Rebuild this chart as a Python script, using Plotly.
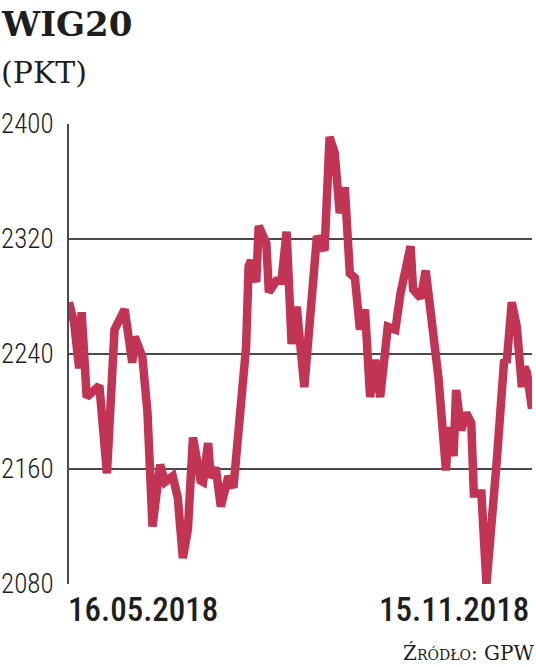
import datetime as dt
import plotly.graph_objects as go

# ---- data ----
start_date = dt.date(2018, 5, 16)
day_offsets = [0, 2, 4, 5, 7, 10, 12, 15, 18, 22, 25, 26, 29, 31, 33, 36, 38, 41, 43, 45,
               47, 49, 52, 53, 55, 56, 58, 60, 63, 65, 67, 70, 71, 72, 74, 75, 78, 79, 82, 84,
               86, 88, 90, 93, 96, 98, 101, 103, 105, 107, 109, 111, 113, 115, 117, 119, 121, 123, 126, 129,
               131, 135, 136, 139, 141, 143, 144, 146, 149, 150, 152, 153, 155, 157, 159, 160, 163, 165, 169, 172,
               173, 175, 177, 179, 180, 181, 183]
wig20 = [2276, 2262, 2230, 2269, 2210, 2214, 2218, 2157, 2257, 2271, 2234, 2252, 2238, 2200, 2120, 2163, 2151, 2155, 2140, 2098,
         2118, 2182, 2152, 2151, 2178, 2154, 2161, 2134, 2155, 2147, 2190, 2245, 2301, 2305, 2290, 2329, 2317, 2283, 2291, 2291,
         2325, 2247, 2273, 2217, 2280, 2322, 2312, 2391, 2380, 2338, 2356, 2296, 2293, 2257, 2271, 2210, 2236, 2210, 2259, 2257,
         2282, 2315, 2285, 2279, 2298, 2271, 2252, 2224, 2159, 2189, 2169, 2215, 2187, 2199, 2192, 2143, 2143, 2080, 2164, 2236,
         2234, 2276, 2259, 2217, 2231, 2227, 2202]
dates = [start_date + dt.timedelta(days=d) for d in day_offsets]

y_ticks = [2080, 2160, 2240, 2320, 2400]
x_labels = ["16.05.2018", "15.11.2018"]
title_text = "WIG20"
unit_text = "(PKT)"
source_text = "Źródło: GPW"

W, H = 536, 667
L, R, T, B = 69, 4, 124, 83
PW, PH = W - L - R, H - T - B


def px_x(px):
    return (px - L) / PW


def px_y(py):
    return (H - B - py) / PH


LINE = "#C33454"
GRID = "#4a4a4a"
TXT = "#1e1e1e"
COND = "Roboto Condensed"

fig = go.Figure()
fig.add_trace(go.Scatter(x=dates, y=wig20, mode="lines",
                         line=dict(color=LINE, width=8.5, shape="linear"),
                         hoverinfo="skip"))

fig.update_layout(
    width=W, height=H,
    margin=dict(l=L, r=R, t=T, b=B, pad=0, autoexpand=False),
    plot_bgcolor="white", paper_bgcolor="white",
    showlegend=False,
    xaxis=dict(range=[dates[0], dates[-1]], showgrid=False, showticklabels=False,
               zeroline=False, showline=False, ticks="", automargin=False),
    yaxis=dict(range=[y_ticks[0], y_ticks[-1]], tickvals=y_ticks,
               ticktext=[str(v) for v in y_ticks], automargin=False,
               showgrid=True, gridcolor=GRID, gridwidth=2,
               zeroline=False, showline=True, linecolor=GRID, linewidth=2,
               ticks="", ticklabelstandoff=8,
               tickfont=dict(family=COND, size=27, color=TXT, weight=300)),
)

annotations = [
    dict(text="<b>" + title_text + "</b>", x=px_x(1), y=px_y(24), xref="paper", yref="paper",
         xanchor="left", yanchor="middle", showarrow=False, xshift=-2,
         font=dict(family="DejaVu Serif", size=34, color=TXT)),
    dict(text=unit_text, x=px_x(1), y=px_y(72), xref="paper", yref="paper",
         xanchor="left", yanchor="middle", showarrow=False, xshift=-2,
         font=dict(family="DejaVu Serif", size=30, color=TXT)),
    dict(text=x_labels[0], x=dates[0], y=px_y(609), xref="x", yref="paper",
         xanchor="left", yanchor="middle", showarrow=False, xshift=-3,
         font=dict(family=COND, size=33, color=TXT, weight=500)),
    dict(text=x_labels[1], x=dates[-1], y=px_y(609), xref="x", yref="paper",
         xanchor="right", yanchor="middle", showarrow=False, xshift=-1,
         font=dict(family=COND, size=33, color=TXT, weight=500)),
    dict(text=source_text, x=px_x(537), y=px_y(653),
         xref="paper", yref="paper", xanchor="right", yanchor="middle", showarrow=False,
         font=dict(family="DejaVu Serif", size=20, color=TXT, variant="small-caps")),
]
fig.update_layout(annotations=annotations)

fig.write_html("out.html", config={"displayModeBar": False},
               post_script="document.body.style.margin='0px';document.body.style.padding='0px';")
